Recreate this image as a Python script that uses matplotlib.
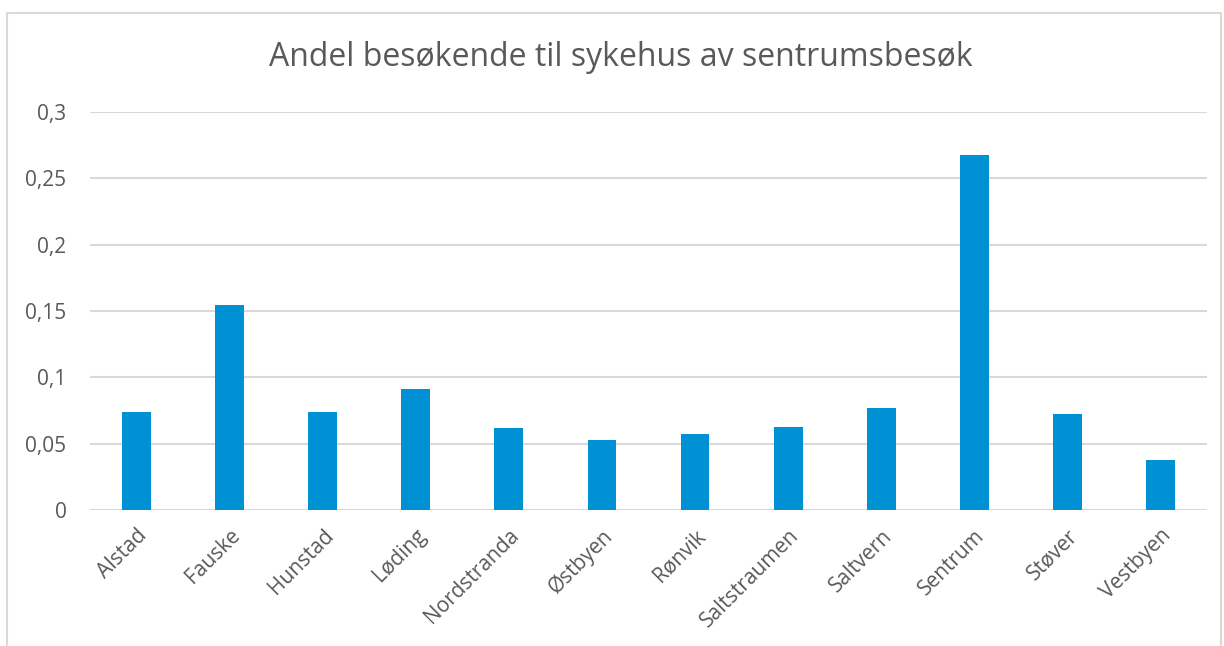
import matplotlib
matplotlib.use("Agg")
import matplotlib.pyplot as plt
from matplotlib.patches import Rectangle
from matplotlib.ticker import FuncFormatter

categories = ["Alstad", "Fauske", "Hunstad", "Løding", "Nordstranda", "Østbyen",
              "Rønvik", "Saltstraumen", "Saltvern", "Sentrum", "Støver", "Vestbyen"]
values = [0.0739, 0.1545, 0.0735, 0.0912, 0.0618, 0.0526,
          0.0575, 0.0627, 0.0767, 0.2677, 0.0723, 0.0377]
yticks = [0, 0.05, 0.1, 0.15, 0.2, 0.25, 0.3]

plt.rcParams["font.family"] = ["Open Sans", "DejaVu Sans"]
text_color = "#595959"
grid_color = "#d9d9d9"
bar_color = "#0090d4"

fig = plt.figure(figsize=(12.24, 6.46), dpi=100)
fig.patches.append(Rectangle((7 / 1224, -0.01), 1214 / 1224, 1 - 13 / 646 + 0.01,
                             transform=fig.transFigure, fill=False,
                             edgecolor="#d9d9d9", linewidth=1.5))

ax = fig.add_axes([90 / 1224, 1 - 510 / 646, 1117 / 1224, 398 / 646])
x = range(len(categories))
ax.bar(x, values, width=0.31, color=bar_color, zorder=3)

ax.set_xlim(-0.5, len(categories) - 0.5)
ax.set_ylim(0, 0.3)
ax.set_yticks(yticks)
ax.yaxis.set_major_formatter(FuncFormatter(lambda v, _: f"{v:g}".replace(".", ",")))
ax.set_xticks(list(x))
ax.set_xticklabels(categories, rotation=45, ha="right", rotation_mode="anchor")

ax.grid(axis="y", color=grid_color, linewidth=1.5, zorder=0)
for s in ax.spines.values():
    s.set_visible(False)
ax.tick_params(axis="both", length=0, labelsize=15, colors=text_color)
ax.tick_params(axis="y", pad=17)
ax.tick_params(axis="x", pad=11)

fig.text(621 / 1224, 1 - 58 / 646, "Andel besøkende til sykehus av sentrumsbesøk",
         ha="center", va="center", fontsize=23, color=text_color)

fig.savefig("out.png", dpi=100)
